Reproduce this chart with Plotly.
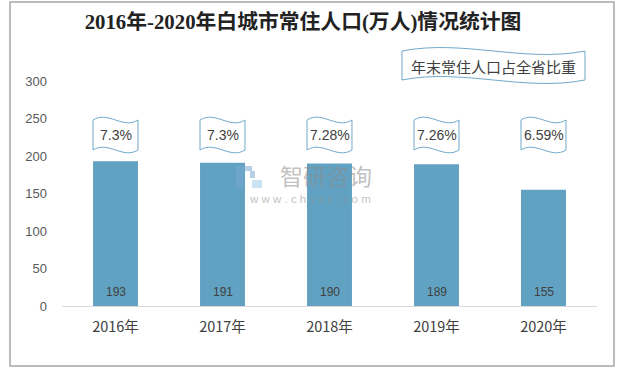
import plotly.graph_objects as go

# ---- data ----
categories = ["2016年", "2017年", "2018年", "2019年", "2020年"]
population = [193, 191, 190, 189, 155]          # 常住人口(万人)
share_labels = ["7.3%", "7.3%", "7.28%", "7.26%", "6.59%"]  # 年末常住人口占全省比重
y_ticks = [0, 50, 100, 150, 200, 250, 300]

title_text = "2016年-2020年白城市常住人口(万人)情况统计图"
legend_text = "年末常住人口占全省比重"

BAR_COLOR = "#61a2c2"
WAVE_COLOR = "#6fa9c9"
TEXT = "#404040"

W, H = 618, 370
L, R, T, B = 62, 21, 81, 64
PW, PH = W - L - R, H - T - B

def px_to_paper(px, py):
    return (px - L) / PW, (H - B - py) / PH

xs = list(range(len(categories)))

fig = go.Figure()
fig.add_trace(go.Bar(
    x=xs, y=population, width=0.42,
    marker=dict(color=BAR_COLOR, line=dict(width=0)),
    hoverinfo="skip", showlegend=False,
))

shapes = []
annotations = []

# value labels inside bars
for x, v in zip(xs, population):
    annotations.append(dict(x=x, y=0, xref="x", yref="y", text=str(v), showarrow=False,
                            xanchor="center", yanchor="bottom", yshift=5,
                            font=dict(family="Liberation Sans, Noto Sans CJK SC", size=12, color=TEXT)))

# wave boxes with share labels
bw = 0.42
ytop, ybot, d = 248, 208, 13
for x, lab in zip(xs, share_labels):
    x0, x1 = x - bw / 2, x + bw / 2
    w = x1 - x0
    path = (f"M {x0},{ytop} C {x0 + w/3},{ytop + d} {x0 + 2*w/3},{ytop - d} {x1},{ytop} "
            f"L {x1},{ybot} C {x0 + 2*w/3},{ybot - d} {x0 + w/3},{ybot + d} {x0},{ybot} Z")
    shapes.append(dict(type="path", path=path, xref="x", yref="y",
                       line=dict(color=WAVE_COLOR, width=1), fillcolor="white"))
    annotations.append(dict(x=x, y=(ytop + ybot) / 2, xref="x", yref="y", text=lab, showarrow=False,
                            xanchor="center", yanchor="middle",
                            font=dict(family="Liberation Sans, Noto Sans CJK SC", size=14, color=TEXT)))

# legend wave box (paper coords from pixel positions)
lx0, lx1, lyt, lyb, ld = 402, 585, 51, 80, 12
def P(px, py):
    a, b = px_to_paper(px, py)
    return f"{a:.5f},{b:.5f}"
lw = lx1 - lx0
lpath = (f"M {P(lx0, lyt)} C {P(lx0 + lw/3, lyt - ld)} {P(lx0 + 2*lw/3, lyt + ld)} {P(lx1, lyt)} "
         f"L {P(lx1, lyb)} C {P(lx0 + 2*lw/3, lyb + ld)} {P(lx0 + lw/3, lyb - ld)} {P(lx0, lyb)} Z")
shapes.append(dict(type="path", path=lpath, xref="paper", yref="paper",
                   line=dict(color=WAVE_COLOR, width=1), fillcolor="white"))
ax, ay = px_to_paper((lx0 + lx1) / 2, 66)
annotations.append(dict(x=ax, y=ay, xref="paper", yref="paper", text=legend_text, showarrow=False,
                        xanchor="center", yanchor="middle",
                        font=dict(family="Noto Sans CJK SC", size=15, color=TEXT)))

# outer border
bx0, by0 = px_to_paper(10, 366)
bx1, by1 = px_to_paper(614, 2)
shapes.append(dict(type="rect", xref="paper", yref="paper", x0=bx0, y0=by0, x1=bx1, y1=by1,
                   line=dict(color="#a6a6a6", width=1.5), layer="below"))

# watermark
wx, wy = px_to_paper(326, 175)
annotations.append(dict(x=wx, y=wy, xref="paper", yref="paper", text="智研咨询", showarrow=False,
                        xanchor="center", yanchor="middle",
                        font=dict(family="Noto Sans CJK SC", size=23, color="rgba(140,140,140,0.55)")))
ux, uy = px_to_paper(310, 199)
annotations.append(dict(x=ux, y=uy, xref="paper", yref="paper", text="w w w . c h y x x . c o m",
                        showarrow=False, xanchor="center", yanchor="middle",
                        font=dict(family="Liberation Sans", size=11.5, color="rgba(140,140,140,0.55)")))
# logo blocks
for (a0, b0, a1, b1, c) in [(236, 166, 243, 188, "rgba(120,170,210,0.55)"),
                            (243, 166, 252, 171, "rgba(120,170,210,0.55)"),
                            (250, 171, 255, 178, "rgba(120,170,210,0.55)"),
                            (252, 180, 262, 188, "rgba(160,205,235,0.55)")]:
    p0 = px_to_paper(a0, b1)
    p1 = px_to_paper(a1, b0)
    shapes.append(dict(type="rect", xref="paper", yref="paper", x0=p0[0], y0=p0[1], x1=p1[0], y1=p1[1],
                       line=dict(width=0), fillcolor=c))

fig.update_layout(
    width=W, height=H,
    margin=dict(l=L, r=R, t=T, b=B),
    paper_bgcolor="white", plot_bgcolor="white",
    title=dict(text="<b>" + title_text + "</b>", x=303 / W, xanchor="center",
               y=1 - 22 / H, yanchor="middle",
               font=dict(family="Liberation Serif, Noto Sans CJK SC", size=20.8, color="#222222")),
    xaxis=dict(range=[-0.5, len(categories) - 0.5], tickvals=xs, ticktext=categories,
               showgrid=False, zeroline=False, showline=True, linecolor="#d9d9d9", linewidth=1,
               ticks="", ticklabelstandoff=8,
               tickfont=dict(family="Noto Sans CJK SC", size=14.5, color=TEXT), fixedrange=True),
    yaxis=dict(range=[0, 300], tickvals=y_ticks, showgrid=False, zeroline=False, showline=False,
               ticks="", ticklabelstandoff=14,
               tickfont=dict(family="Liberation Sans, Noto Sans CJK SC", size=13, color="#595959"),
               fixedrange=True),
    shapes=shapes, annotations=annotations, bargap=0.58,
)

fig.write_html("out.html", config={"displayModeBar": False, "staticPlot": True},
               post_script="document.body.style.margin='0px';document.body.style.padding='0px';")
